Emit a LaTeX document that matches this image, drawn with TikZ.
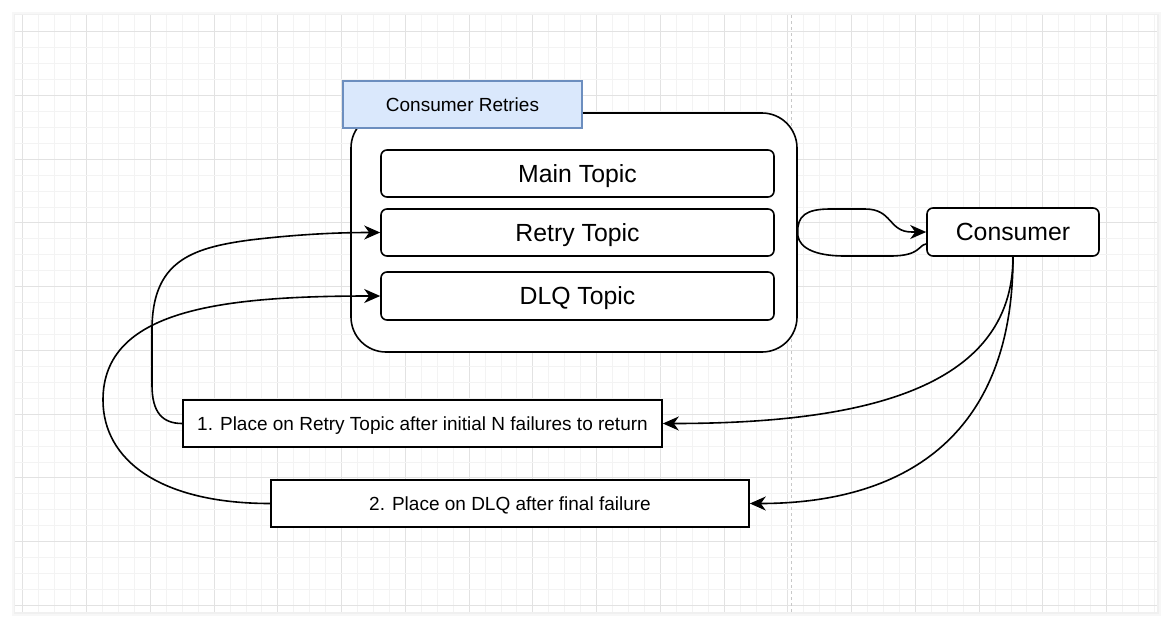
\documentclass[tikz,border=0pt]{standalone}
\usepackage{fontspec}
\setmainfont{Liberation Sans}
\usetikzlibrary{arrows.meta}
\definecolor{gmin}{RGB}{243,243,243}
\definecolor{gmaj}{RGB}{226,226,226}
\definecolor{pagebrk}{RGB}{200,200,200}
\definecolor{lblfill}{HTML}{DAE8FC}
\definecolor{lbldraw}{HTML}{6C8EBF}
\newcommand\dgsmall{\fontsize{19}{23}\selectfont}
\newcommand\dgbig{\fontsize{24.8}{29}\selectfont}
\begin{document}
\begin{tikzpicture}[x=1pt,y=-1pt,
  box/.style={draw=black, fill=white, line width=1.6pt, inner sep=0pt, font=\dgsmall, text height=13.6pt, text depth=0pt},
  topicbox/.style={box, rounded corners=6pt, font=\dgbig, text height=17.8pt},
  conn/.style={draw=black, line width=1.6pt, -{Stealth[length=16pt,width=14pt,inset=5pt]}},
  plain/.style={draw=black, line width=1.6pt}]
\useasboundingbox (0,0) rectangle (1172,627);
% canvas with soft shadow
\fill[black!3] (12,12) rectangle (1161,616);
\fill[black!6] (14,14) rectangle (1159,614);
\fill[white] (15,15) rectangle (1157,612);
% grid
\foreach \i in {0,...,71} {
  \pgfmathsetmacro\xx{22.9+15.9375*\i}
  \pgfmathtruncatemacro\m{mod(\i,4)}
  \ifnum\m=0 \draw[gmaj, line width=1pt] (\xx,15) -- (\xx,612);
  \else \draw[gmin, line width=1pt] (\xx,15) -- (\xx,612); \fi
}
\foreach \i in {0,...,36} {
  \pgfmathsetmacro\yy{31.7+15.9375*\i}
  \pgfmathtruncatemacro\m{mod(\i,4)}
  \ifnum\m=0 \draw[gmaj, line width=1pt] (15,\yy) -- (1157,\yy);
  \else \draw[gmin, line width=1pt] (15,\yy) -- (1157,\yy); \fi
}
\draw[pagebrk, line width=1pt, dash pattern=on 3pt off 3pt] (791,15) -- (791,612);

% container and its label
\node[box, rounded corners=35pt, minimum width=446pt, minimum height=239pt] (group) at (574,232.5) {};
\node[draw=lbldraw, fill=lblfill, line width=1.6pt, inner sep=0pt, font=\dgsmall,
      text height=13.6pt, text depth=0pt,
      minimum width=239pt, minimum height=47pt] (grouplabel) at (462.5,104.5) {Consumer Retries};

% topics
\node[topicbox, minimum width=393pt, minimum height=47pt] (main) at (577.5,173.5) {Main Topic};
\node[topicbox, minimum width=393pt, minimum height=47pt] (retry) at (577.5,232.5) {Retry Topic};
\node[topicbox, minimum width=393pt, minimum height=48pt] (dlq) at (577.5,296) {DLQ Topic};

% consumer
\node[topicbox, minimum width=172pt, minimum height=48pt] (consumer) at (1013,232) {Consumer};

% step labels
\node[box, minimum width=479pt, minimum height=47pt] (step1) at (422.5,423.5) {1. Place on Retry Topic after initial N failures to return};
\node[box, minimum width=478pt, minimum height=47pt] (step2) at (510,503.5) {2. Place on DLQ after final failure};

% consumer self loop around the container
\draw[conn] ([yshift=-12pt]consumer.west) .. controls (918,245) and (921,256) .. (890,256)
  -- (845,256) .. controls (805,256) and (797,242) .. (group.east)
  .. controls (797,216) and (806,209) .. (830,209) -- (865,209)
  .. controls (893,209) and (888,232) .. (912,232) -- (consumer.west);

% consumer to step labels
\draw[conn] (consumer.south) .. controls (1013,390) and (860,423.5) .. (step1.east);
\draw[conn] (consumer.south) .. controls (1013,440) and (900,503.5) .. (step2.east);

% step labels back to topics
\draw[conn] (step1.west) .. controls (162,423.5) and (152,412) .. (152,385) -- (152,330)
  .. controls (152,262) and (190,248) .. (250,240)
  .. controls (300,234) and (340,232.5) .. (retry.west);
\draw[conn] (step2.west) .. controls (160,503.5) and (103,460) .. (103,400)
  .. controls (103,310) and (220,296) .. (dlq.west);
\end{tikzpicture}
\end{document}
